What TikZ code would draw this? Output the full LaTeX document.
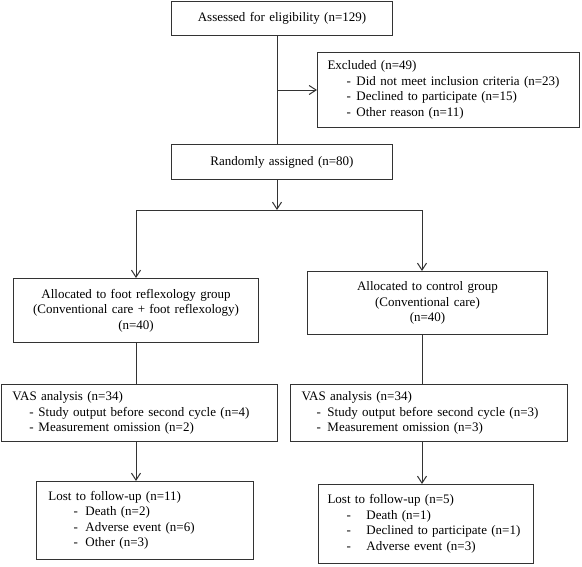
\documentclass[tikz,border=0pt]{standalone}
\usepackage{fontspec}
\setmainfont{Liberation Serif}
\usetikzlibrary{arrows.meta}
\newcommand\itm[3]{\leavevmode\rlap{\hspace*{#1}-}\hspace*{#2}#3}
\begin{document}
\begin{tikzpicture}[x=1pt,y=-1pt,
  box/.style={draw=black!80, line width=1pt, anchor=north west, inner ysep=0pt, inner xsep=0pt, font=\fontsize{13}{15.5}\selectfont},
  ctr/.style={box, align=center},
  lst/.style={box, align=left},
  ln/.style={draw=black!80, line width=1pt},
  arr/.style={ln, -{Straight Barb[length=7pt,width=9pt]}}]
\useasboundingbox (0,0) rectangle (582,566);
\node[ctr, minimum height=34pt, text width=221pt] (assess) at (171,1) {Assessed for eligibility (n=129)};
\node[lst, minimum height=75pt, inner xsep=10pt, text width=242pt] (excl) at (317,52)
  {Excluded (n=49)\\
   \itm{19pt}{29pt}{Did not meet inclusion criteria (n=23)}\\
   \itm{19pt}{29pt}{Declined to participate (n=15)}\\
   \itm{19pt}{29pt}{Other reason (n=11)}};
\node[ctr, minimum height=35pt, text width=221pt] (rand) at (171,144) {Randomly assigned (n=80)};
\node[ctr, minimum height=64pt, text width=245pt] (la) at (13,278)
  {Allocated to foot reflexology group\\(Conventional care + foot reflexology)\\(n=40)};
\node[ctr, minimum height=63pt, text width=240pt] (ra) at (307,271)
  {Allocated to control group\\(Conventional care)\\(n=40)};
\node[lst, minimum height=57pt, inner xsep=11pt, text width=254pt] (lv) at (1,384)
  {VAS analysis (n=34)\\
   \itm{17pt}{26pt}{Study output before second cycle (n=4)}\\
   \itm{17pt}{26pt}{Measurement omission (n=2)}};
\node[lst, minimum height=57pt, inner xsep=11pt, text width=255pt] (rv) at (290,384)
  {VAS analysis (n=34)\\
   \itm{15pt}{26pt}{Study output before second cycle (n=3)}\\
   \itm{15pt}{26pt}{Measurement omission (n=3)}};
\node[lst, minimum height=78pt, inner xsep=12pt, text width=193pt] (ll) at (36,481)
  {Lost to follow-up (n=11)\\
   \itm{25pt}{37pt}{Death (n=2)}\\
   \itm{25pt}{37pt}{Adverse event (n=6)}\\
   \itm{25pt}{37pt}{Other (n=3)}};
\node[lst, minimum height=79pt, inner xsep=9pt, text width=197pt] (rl) at (318,484)
  {Lost to follow-up (n=5)\\
   \itm{19pt}{39pt}{Death (n=1)}\\
   \itm{19pt}{39pt}{Declined to participate (n=1)}\\
   \itm{19pt}{39pt}{Adverse event (n=3)}};
\coordinate (spine) at (277,0);
\coordinate (br) at (277,210);
\coordinate (bl) at (136,210);
\coordinate (brr) at (422,210);
\draw[ln] (assess.south -| spine) -- (rand.north -| spine);
\draw[arr] (excl.west -| spine) -- (excl.west);
\draw[arr] (rand.south -| spine) -- (br);
\draw[ln] (bl) -- (brr);
\draw[arr] (bl) -- (bl |- la.north);
\draw[arr] (brr) -- (brr |- ra.north);
\draw[ln] (la.south -| bl) -- (lv.north -| bl);
\draw[arr] (lv.south -| bl) -- (ll.north -| bl);
\draw[ln] (ra.south -| brr) -- (rv.north -| brr);
\draw[arr] (rv.south -| brr) -- (rl.north -| brr);
\end{tikzpicture}
\end{document}
